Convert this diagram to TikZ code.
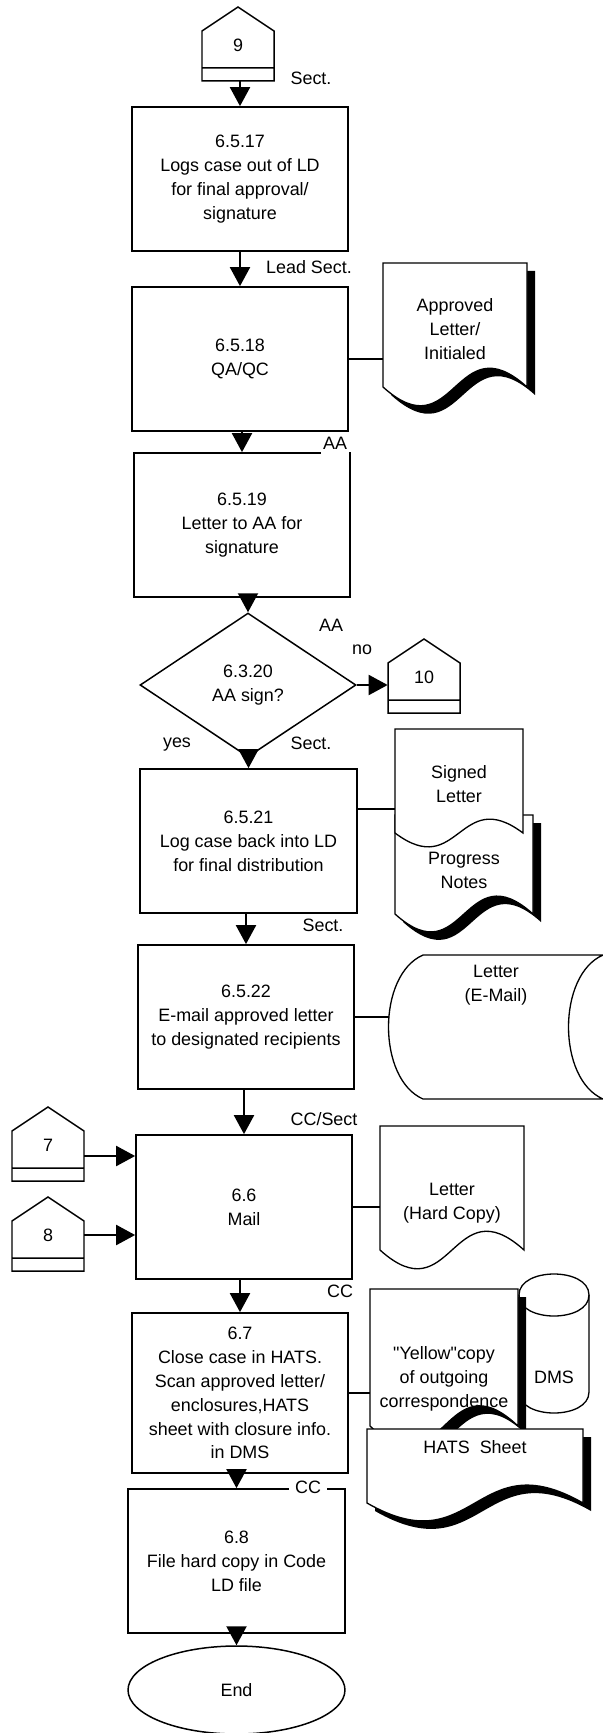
\documentclass[tikz,border=0pt]{standalone}
\usepackage{fontspec}
\setmainfont{Liberation Sans}
\usetikzlibrary{arrows.meta,shapes.geometric}

\tikzset{
  box/.style={draw, line width=1pt, minimum width=4.32cm, minimum height=2.88cm, align=center, inner sep=0pt},
  dec/.style={diamond, draw, line width=0.85pt, minimum width=4.32cm, minimum height=2.88cm, align=center, inner sep=0pt},
  term/.style={ellipse, draw, line width=0.85pt, minimum width=4.34cm, minimum height=1.76cm, inner sep=0pt},
  arr/.style={line width=1.2pt, -{Triangle[width=0.4cm,length=0.38cm]}},
  link/.style={line width=0.6pt},
  shp/.style={draw, line width=0.75pt, fill=white},
  shadw/.style={fill=black, shift={(8,8)}},
  opc/.style={minimum width=1.44cm, minimum height=1cm, inner sep=0pt},
  txt/.style={align=center, inner sep=0pt},
  lbl/.style={inner sep=0pt},
}

\begin{document}
\begin{tikzpicture}[x=0.02cm, y=-0.02cm, font=\fontsize{10.2}{13.6}\selectfont]
  \path[use as bounding box, fill=white] (0,0) rectangle (602,1733);
  % off-page connectors
  \foreach \n/\cx/\ty in {9/238/7, 10/424/639, 7/48/1107, 8/48/1197}{
    \draw[line width=0.85pt] (\cx-36,\ty+24) -- (\cx,\ty) -- (\cx+36,\ty+24) -- (\cx+36,\ty+74) -- (\cx-36,\ty+74) -- cycle
      (\cx-36,\ty+61) -- (\cx+36,\ty+61);
    \node[opc, label={[lbl, yshift=0.22cm]center:\n}] (c\n) at (\cx,\ty+49) {};
  }
  % process steps
  \node[box] (b17) at (240,179) {6.5.17\\Logs case out of LD\\for final approval/\\signature};
  \node[box] (b18) at (240,359) {6.5.18\\QA/QC};
  \node[box] (b19) at (242,525) {6.5.19\\Letter to AA for\\signature};
  \node[dec] (d20) at (248,685) {6.3.20\\AA sign?};
  \node[box, minimum width=4.34cm] (b21) at (248.5,841) {6.5.21\\Log case back into LD\\for final distribution};
  \node[box] (b22) at (246,1017) {6.5.22\\E-mail approved letter\\to designated recipients};
  \node[box] (b66) at (244,1207) {6.6\\Mail};
  \node[box, minimum height=3.2cm] (b67) at (240,1393) {6.7\\Close case in HATS.\\Scan approved letter/\\enclosures,HATS\\sheet with closure info.\\in DMS};
  \node[box, minimum width=4.34cm] (b68) at (236.5,1561) {6.8\\File hard copy in Code\\LD file};
  \node[term] (stop) at (236.5,1690) {End};
  % approved letter
  \fill[shadw] (383,263) -- (383,387) .. controls (455,452) and (455,322) .. (527,387) -- (527,263) -- cycle;
  \draw[shp] (383,263) -- (383,387) .. controls (455,452) and (455,322) .. (527,387) -- (527,263) -- cycle;
  % progress notes and signed letter
  \fill[shadw] (395,815) -- (395,914) .. controls (464,976) and (464,852) .. (533,914) -- (533,815) -- cycle;
  \draw[shp] (395,815) -- (395,914) .. controls (464,976) and (464,852) .. (533,914) -- (533,815) -- cycle;
  \draw[shp] (395,729) -- (395,833) .. controls (459,881) and (459,785) .. (523,833) -- (523,729) -- cycle;
  % e-mail store
  \draw[shp] (423,955) -- (603,955) .. controls (557,975) and (557,1079) .. (603,1099) -- (423,1099) .. controls (377,1079) and (377,975) .. cycle;
  % hard copy
  \draw[shp] (380,1126) -- (380,1250) .. controls (452,1315) and (452,1185) .. (524,1250) -- (524,1126) -- cycle;
  % DMS
  \draw[shp] (519,1295) -- (519,1392) .. controls (519,1420) and (589,1420) .. (589,1392) -- (589,1295) .. controls (589,1267) and (519,1267) .. cycle;
  \draw[line width=0.75pt] (519,1295) .. controls (519,1323) and (589,1323) .. (589,1295);
  % yellow copy
  \fill[shadw] (370,1289) -- (370,1426) .. controls (444,1496) and (444,1356) .. (518,1426) -- (518,1289) -- cycle;
  \draw[shp] (370,1289) -- (370,1426) .. controls (444,1496) and (444,1356) .. (518,1426) -- (518,1289) -- cycle;
  % HATS sheet
  \fill[shadw] (367,1429) -- (367,1503) .. controls (475,1565) and (475,1441) .. (583,1503) -- (583,1429) -- cycle;
  \draw[shp] (367,1429) -- (367,1503) .. controls (475,1565) and (475,1441) .. (583,1503) -- (583,1429) -- cycle;
  % document texts
  \node[txt, minimum width=2.88cm] (ald) at (455,329) {Approved\\Letter/\\Initialed};
  \node[txt, minimum width=2.56cm] (sgl) at (459,784) {Signed\\Letter};
  \node[txt, minimum width=2.76cm] (pgn) at (464,870) {Progress\\Notes};
  \node[txt, minimum width=4.28cm] (eml) at (496,985) {Letter\\(E-Mail)};
  \node[txt, minimum width=2.88cm] (lhc) at (452,1203) {Letter\\(Hard Copy)};
  \node[txt, minimum width=2.96cm] (ylw) at (444,1379) {\textquotedbl Yellow\textquotedbl copy\\of outgoing\\correspondence};
  \node[txt] (dms) at (554,1377) {DMS};
  \node[txt] (hts) at (475,1447) {HATS~~Sheet};
  % flow
  \foreach \a/\b in {c9/b17, b17/b18, b18/b19, b19/d20, d20/b21, b21/b22, b22/b66, b66/b67, b67/b68, b68/stop}
    \draw[arr] (\b.north |- \a.south) -- (\b.north);
  \draw[arr] (d20.east) -- (d20.east -| c10.west);
  \draw[arr] (c7.east) -- (c7.east -| b66.west);
  \draw[arr] ([yshift=0.22cm]c8.east) -- ([yshift=0.22cm]c8.east -| b66.west);
  % links to documents
  \coordinate (sgin) at (395,809);
  \draw[link] (b18.east) -- (b18.east -| ald.west);
  \draw[link] (b21.east |- sgin) -- (sgin);
  \draw[link] (b22.east) -- (b22.east -| eml.west);
  \draw[link] (b66.east) -- (b66.east -| lhc.west);
  \draw[link] (b67.east) -- (b67.east -| ylw.west);
  % roles
  \node[lbl] (r1) at (311,78) {Sect.};
  \node[lbl] (r2) at (309,267) {Lead Sect.};
  \node[lbl, fill=white, inner xsep=1pt, minimum height=0.44cm] (r3) at (335,443) {AA};
  \node[lbl] (r4) at (331,625) {AA};
  \node[lbl] (no) at (362,650) {no};
  \node[lbl] (yes) at (177,745) {yes};
  \node[lbl] (r5) at (311,743) {Sect.};
  \node[lbl] (r6) at (323,925) {Sect.};
  \node[lbl] (r7) at (324,1119) {CC/Sect};
  \node[lbl] (r8) at (340,1291) {CC};
  \node[lbl, fill=white, inner xsep=3.5pt, inner ysep=1pt] (r9) at (308,1487) {CC};
\end{tikzpicture}
\end{document}
